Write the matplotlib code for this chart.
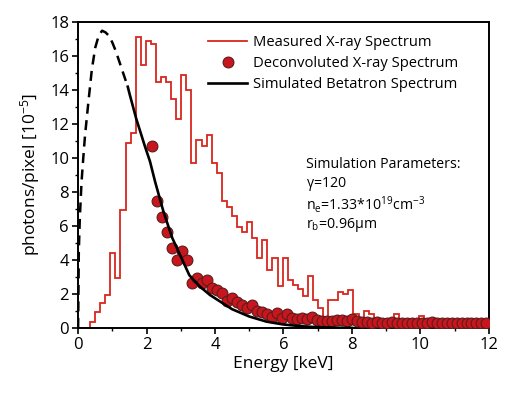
import numpy as np
import matplotlib
matplotlib.use("Agg")
import matplotlib.pyplot as plt
from matplotlib.ticker import MultipleLocator

plt.rcParams['font.family'] = ['Open Sans', 'DejaVu Sans']
plt.rcParams['mathtext.default'] = 'regular'

# measured spectrum, histogram bins (keV) starting at 0.35
bin_start = 0.35
bin_width = 0.148
measured = [0.37, 0.92, 1.45, 1.94, 4.43, 2.96, 6.94, 10.9, 11.5, 17.1,
            15.5, 16.9, 16.7, 14.5, 14.8, 14.5, 13.45, 12.3, 14.9, 14.0,
            9.7, 11.06, 10.7, 11.35, 9.7, 9.1, 7.5, 7.1, 6.6, 5.96,
            5.67, 6.25, 5.28, 4.1, 5.18, 3.4, 4.1, 2.45, 4.1, 2.8,
            2.5, 2.3, 1.85, 3.05, 1.65, 1.15, 0.6, 1.65, 1.65, 2.1,
            2.0, 2.25, 0.8, 0.1, 1.0, 0.8, 0.6, 0.45, 0.4, 0.4,
            0.8, 0.35, 0.3, 0.35, 0.4, 0.7, 0.3, 0.35, 0.45, 0.3,
            0.3, 0.4, 0.3, 0.3, 0.35, 0.3, 0.3, 0.3, 0.3]

# deconvoluted spectrum (points)
deconv_start = 2.15
deconv_step = 0.146
deconv = [10.7, 7.5, 6.55, 5.63, 4.7, 4.0, 4.5, 4.0, 2.65, 2.92,
          2.67, 2.82, 2.33, 2.24, 2.08, 1.6, 1.75, 1.5, 1.32, 1.2,
          1.35, 1.0, 0.93, 0.82, 0.67, 0.9, 0.57, 0.8, 0.57, 0.55,
          0.57, 0.5, 0.63, 0.45, 0.42, 0.38, 0.42, 0.45, 0.48, 0.42,
          0.52, 0.38, 0.35, 0.33, 0.3, 0.32, 0.28, 0.3, 0.35, 0.3,
          0.28, 0.3, 0.27, 0.3, 0.28, 0.3, 0.32, 0.28, 0.27, 0.3,
          0.28, 0.3, 0.27, 0.28, 0.3, 0.27, 0.28, 0.3]

# simulated betatron spectrum: dashed part below ~1.45 keV, solid above
sim_dash_e = [0.0, 0.02, 0.05, 0.1, 0.15, 0.2, 0.3, 0.4, 0.5, 0.6,
              0.7, 0.8, 0.9, 1.0, 1.1, 1.2, 1.3, 1.45]
sim_dash_v = [0.0, 4.5, 6.5, 8.6, 10.0, 11.3, 13.3, 15.2, 16.5, 17.2,
              17.5, 17.4, 17.2, 16.8, 16.3, 15.7, 15.1, 14.2]
sim_e = [1.45, 1.5, 1.7, 1.95, 2.1, 2.25, 2.5, 2.75, 3.0, 3.25,
         3.55, 3.85, 4.15, 4.5, 5.0, 5.5, 6.0, 6.5, 7.0, 7.5, 8.0]
sim_v = [14.2, 13.8, 12.3, 10.7, 9.8, 8.6, 6.8, 5.3, 4.2, 3.1,
         2.45, 1.94, 1.55, 1.1, 0.67, 0.37, 0.2, 0.1, 0.04, 0.01, 0.0]

params = ['Simulation Parameters:',
          '$\\gamma$=120',
          'n$_e$=1.33*10$^{19}$cm$^{-3}$',
          'r$_b$=0.96\u00b5m']

red = '#d8261c'

fig = plt.figure(figsize=(5.14, 3.96), dpi=100)
ax = fig.add_axes([0.152, 0.172, 0.799, 0.772])

edges = np.concatenate([[0.0], bin_start + bin_width * np.arange(len(measured) + 1)])
vals = np.concatenate([[0.0], measured])
ax.stairs(vals, edges, color=red, lw=1.3, zorder=2,
          label='Measured X-ray Spectrum')

de = deconv_start + deconv_step * np.arange(len(deconv))
ax.plot(de, deconv, 'o', ms=7.8, mfc='#c8161e', mec='#5c1c1c', mew=0.8,
        zorder=3, label='Deconvoluted X-ray Spectrum')

ax.plot(sim_dash_e, sim_dash_v, color='black', lw=1.8, ls=(0, (4, 2.6)), zorder=4)
ax.plot(sim_e, sim_v, color='black', lw=1.9, zorder=4,
        label='Simulated Betatron Spectrum')

ax.set_xlim(0, 12)
ax.set_ylim(0, 18)
ax.xaxis.set_major_locator(MultipleLocator(2))
ax.xaxis.set_minor_locator(MultipleLocator(1))
ax.yaxis.set_major_locator(MultipleLocator(2))
ax.yaxis.set_minor_locator(MultipleLocator(1))
ax.tick_params(which='major', direction='out', length=4.5, width=1.2,
               labelsize=12, pad=2, top=False, right=False)
ax.tick_params(which='minor', direction='out', length=2.5, width=1.0,
               top=False, right=False)
for s in ax.spines.values():
    s.set_linewidth(1.4)

ax.set_xlabel('Energy [keV]', fontsize=12.5, labelpad=2)
ax.set_ylabel('photons/pixel [10$^{-5}$]', fontsize=12.5, labelpad=6)

ax.legend(loc='upper left', bbox_to_anchor=(0.285, 1.0), frameon=False,
          fontsize=10.6, handlelength=2.6, handletextpad=0.4,
          labelspacing=0.4, borderaxespad=0.5, numpoints=1)

for i, t in enumerate(params):
    ax.text(0.555, 0.536 - i * 0.066, t, transform=ax.transAxes,
            fontsize=10.2, va='center', ha='left')

fig.savefig('out.png', dpi=100)
